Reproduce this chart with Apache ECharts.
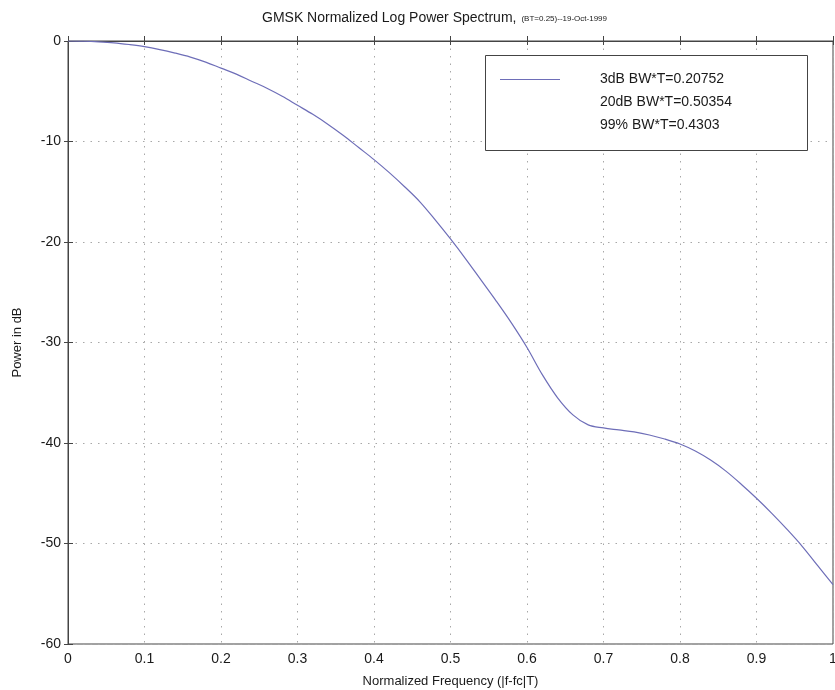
<!DOCTYPE html>
<html>
<head>
<meta charset="utf-8">
<script src="https://cdn.jsdelivr.net/npm/echarts@6/dist/echarts.min.js"></script>
<style>
html,body{margin:0;padding:0;background:#fff;}
#chart{width:835px;height:690px;}
</style>
</head>
<body>
<div id="chart"></div>
<script>
var freq = [0,0.02,0.04,0.06,0.08,0.10,0.12,0.14,0.16,0.18,0.20,0.22,0.24,0.26,0.28,0.30,0.32,0.34,0.36,0.38,0.40,0.42,0.44,0.46,0.48,0.50,0.52,0.54,0.56,0.58,0.60,0.62,0.64,0.66,0.68,0.70,0.72,0.74,0.76,0.78,0.80,0.82,0.84,0.86,0.88,0.90,0.92,0.94,0.96,0.98,1.00];
var powerDb = [0,-0.02,-0.08,-0.18,-0.35,-0.56,-0.85,-1.2,-1.6,-2.1,-2.7,-3.3,-4.0,-4.7,-5.5,-6.4,-7.3,-8.3,-9.4,-10.6,-11.8,-13.1,-14.5,-16.0,-17.8,-19.7,-21.7,-23.8,-25.9,-28.1,-30.5,-33.2,-35.5,-37.2,-38.2,-38.5,-38.7,-38.9,-39.2,-39.6,-40.1,-40.8,-41.7,-42.8,-44.1,-45.5,-47.0,-48.6,-50.3,-52.2,-54.1];
var legendLines = ['3dB BW*T=0.20752','20dB BW*T=0.50354','99% BW*T=0.4303'];
var titleMain = 'GMSK Normalized Log Power Spectrum,';
var titleSub = '(BT=0.25)--19-Oct-1999';

var FONT = '"Liberation Sans", Arial, Helvetica, sans-serif';
var lineColor = '#6e6eb8';
var data = freq.map(function(f,i){return [f, powerDb[i]];});

var chart = echarts.init(document.getElementById('chart'));
var splitStyle = {show:true, lineStyle:{color:'#a8a8a8', type:[1.5,6], width:1}};
var axisLineStyle = {show:true, lineStyle:{color:'#444', width:1}};
chart.setOption({
  animation:false,
  backgroundColor:'#fff',
  title:{
    text:'{a|'+titleMain+'} {b|'+titleSub+'}',
    left:257, top:4,
    textStyle:{fontWeight:'normal', rich:{
      a:{fontFamily:FONT,fontSize:14,color:'#1a1a1a',fontWeight:'normal'},
      b:{fontFamily:FONT,fontSize:8,color:'#1a1a1a',fontWeight:'normal',padding:[2,0,0,0]}
    }}
  },
  grid:{left:68, top:41, right:2, bottom:46, containLabel:false, outerBoundsMode:'none', show:true, borderColor:'#444', borderWidth:1},
  xAxis:[{
    type:'value', min:0, max:1, interval:0.1,
    name:'Normalized Frequency (|f-fc|T)', nameLocation:'middle', nameGap:31,
    nameTextStyle:{fontFamily:FONT,fontSize:13,color:'#1a1a1a'},
    axisLine:axisLineStyle,
    axisTick:{show:true, inside:true, length:5, lineStyle:{color:'#444'}},
    axisLabel:{fontFamily:FONT,fontSize:14,color:'#1a1a1a',margin:8},
    splitLine:splitStyle
  },{
    type:'value', min:0, max:1, interval:0.1, position:'top',
    axisLine:axisLineStyle,
    axisTick:{show:true, inside:true, length:4, lineStyle:{color:'#444'}},
    axisLabel:{show:false}, splitLine:{show:false}
  }],
  yAxis:[{
    type:'value', min:-60, max:0, interval:10,
    name:'Power in dB', nameLocation:'middle', nameGap:44, nameRotate:90,
    nameTextStyle:{fontFamily:FONT,fontSize:13,color:'#1a1a1a'},
    axisLine:axisLineStyle,
    axisTick:{show:true, inside:true, length:5, lineStyle:{color:'#444'}},
    axisLabel:{fontFamily:FONT,fontSize:14,color:'#1a1a1a',margin:7},
    splitLine:splitStyle
  },{
    type:'value', min:-60, max:0, interval:10, position:'right',
    axisLine:axisLineStyle,
    axisTick:{show:true, inside:true, length:4, lineStyle:{color:'#444'}},
    axisLabel:{show:false}, splitLine:{show:false}
  }],
  series:[{
    name:legendLines[0], type:'line', data:data, smooth:0.35, showSymbol:false,
    lineStyle:{color:lineColor, width:1.2}, itemStyle:{color:lineColor}
  }],
  graphic:[
    {type:'rect', shape:{x:485.5,y:55.5,width:322,height:95}, style:{fill:'#fff', stroke:'#444', lineWidth:1}, z:100},
    {type:'line', shape:{x1:500,y1:79.5,x2:560,y2:79.5}, style:{stroke:lineColor, lineWidth:1.2}, z:101},
    {type:'text', left:600, top:72, style:{text:legendLines[0], font:'14px '+FONT, fill:'#1a1a1a'}, z:101},
    {type:'text', left:600, top:95, style:{text:legendLines[1], font:'14px '+FONT, fill:'#1a1a1a'}, z:101},
    {type:'text', left:600, top:118, style:{text:legendLines[2], font:'14px '+FONT, fill:'#1a1a1a'}, z:101}
  ]
});
</script>
</body>
</html>
